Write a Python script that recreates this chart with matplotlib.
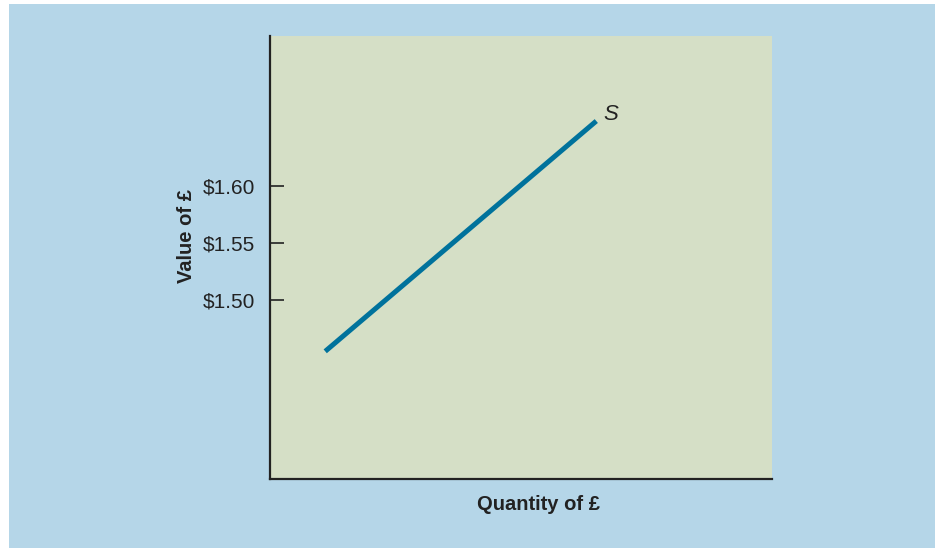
import matplotlib
matplotlib.use("Agg")
import matplotlib.pyplot as plt
from matplotlib.patches import Rectangle

# Data
quantity = [1.1, 6.5]
value = [1.455, 1.657]
yticks = [1.50, 1.55, 1.60]
ytick_labels = ["$1.50", "$1.55", "$1.60"]
curve_label = "S"
xlabel = "Quantity of £"
ylabel = "Value of £"

W, H = 935, 548
fig = plt.figure(figsize=(W / 100, H / 100), dpi=100)
fig.patch.set_facecolor("white")
fig.patches.append(Rectangle((9 / W, 0), 1 - 9 / W, 1 - 4 / H, transform=fig.transFigure,
                             facecolor="#b5d6e8", edgecolor="none", zorder=-10))

ax = fig.add_axes([270 / W, 1 - 479 / H, 502 / W, 443 / H])
ax.set_facecolor("#d5dfc6")
ax.plot(quantity, value, color="#00729c", lw=3.6, solid_capstyle="butt")
ax.text(quantity[-1] + 0.14, value[-1] + 0.001, curve_label, fontsize=16, style="italic",
        color="#222222", ha="left", va="baseline", family="Liberation Sans")

ax.set_xlim(0, 10)
ax.set_ylim(1.343, 1.7316)
ax.set_xticks([])
ax.set_yticks(yticks)
ax.set_yticklabels(ytick_labels, family="Liberation Sans", fontsize=15, color="#222222")
ax.tick_params(axis="y", direction="in", length=10, width=1.2, color="#222222", pad=11)

for s in ["top", "right"]:
    ax.spines[s].set_visible(False)
for s in ["left", "bottom"]:
    ax.spines[s].set_linewidth(1.6)
    ax.spines[s].set_color("#222222")

bold = ["Liberation Sans", "DejaVu Sans"]
ax.set_xlabel(xlabel, family=bold, fontweight="bold", fontsize=14.5, color="#222222")
ax.set_ylabel(ylabel, family=bold, fontweight="bold", fontsize=14.5, color="#222222")
ax.xaxis.set_label_coords(0.534, -0.036)
ax.yaxis.set_label_coords(-0.147, 0.549)

fig.savefig("out.png", dpi=100, facecolor=fig.get_facecolor())
